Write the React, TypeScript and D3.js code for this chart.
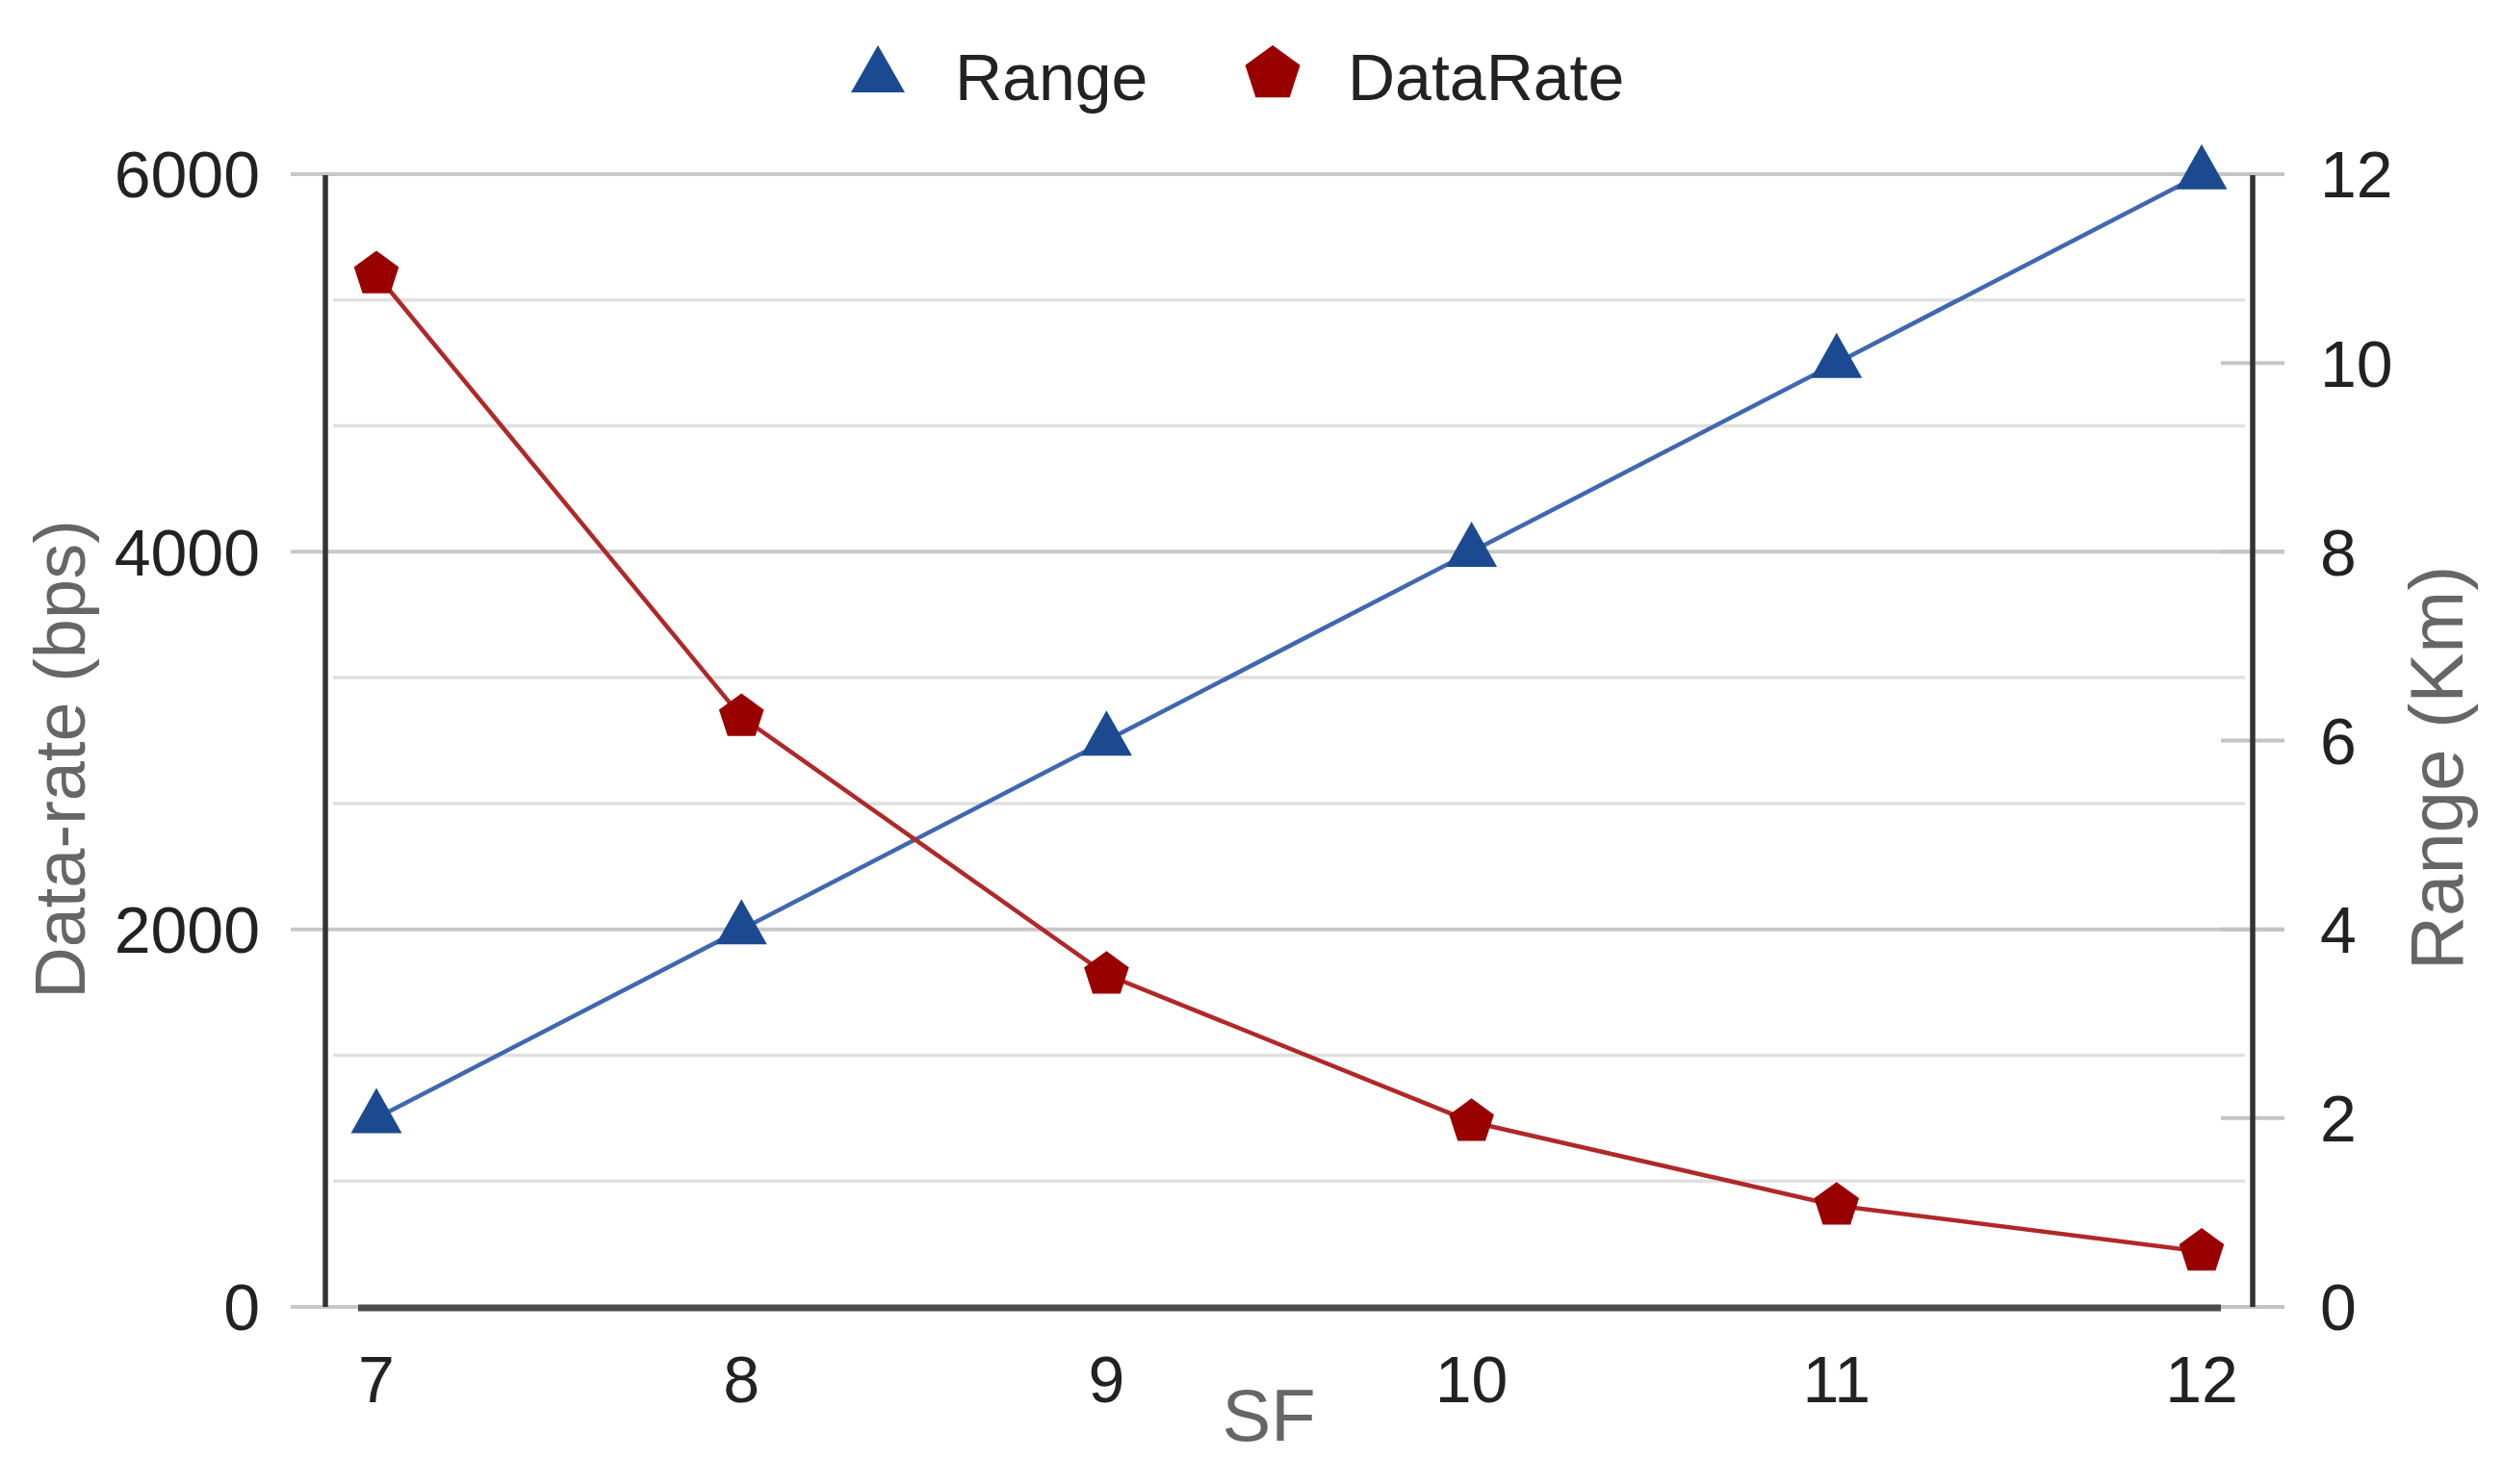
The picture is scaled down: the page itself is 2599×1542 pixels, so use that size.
import React from "react";
import * as d3 from "d3";

const sfValues = [7, 8, 9, 10, 11, 12];
const rangeKm = [2, 4, 6, 8, 10, 12];
const dataRateBps = [5470, 3125, 1760, 980, 537, 293];
const leftTicks = [0, 2000, 4000, 6000];
const rightTicks = [0, 2, 4, 6, 8, 10, 12];
const seriesNames = ["Range", "DataRate"];
const xTitle = "SF";
const leftTitle = "Data-rate (bps)";
const rightTitle = "Range (Km)";

const W = 2599;
const H = 1542;
const FONT = "'Liberation Sans', Arial, sans-serif";

const BLUE_LINE = "#3e68b0";
const BLUE_MARK = "#1c4a91";
const RED_LINE = "#b02828";
const RED_MARK = "#990000";

function trianglePath(cx: number, cy: number, w: number, h: number) {
  const p = d3.path();
  p.moveTo(cx, cy - (2 * h) / 3);
  p.lineTo(cx + w / 2, cy + h / 3);
  p.lineTo(cx - w / 2, cy + h / 3);
  p.closePath();
  return p.toString();
}

function pentagonPath(cx: number, cy: number, r: number) {
  const pts: [number, number][] = d3.range(5).map((i) => {
    const a = -Math.PI / 2 + (i * 2 * Math.PI) / 5;
    return [cx + r * Math.cos(a), cy + r * Math.sin(a)];
  });
  return d3.line()(pts)! + "Z";
}

export default function App() {
  const x = d3.scaleLinear().domain([7, 12]).range([391, 2287]);
  const yL = d3.scaleLinear().domain([0, 6000]).range([1358, 181]);
  const yR = d3.scaleLinear().domain([0, 12]).range([1358, 181]);

  const axisLeftX = 338;
  const axisRightX = 2340;

  const gridVals = d3.range(0, 10).map((i) => (i * 6000) / 9);
  const minorGrid = gridVals.filter((v) => !leftTicks.some((t) => Math.abs(t - v) < 1));

  const rangeLine = d3
    .line<number>()
    .x((_, i) => x(sfValues[i]))
    .y((d) => yR(d));
  const rateLine = d3
    .line<number>()
    .x((_, i) => x(sfValues[i]))
    .y((d) => yL(d));

  return (
    <svg
      width={W}
      height={H}
      style={{ position: "absolute", left: 0, top: 0, background: "#fff" }}
      fontFamily={FONT}
    >
      <rect x={0} y={0} width={W} height={H} fill="#fff" />
      {minorGrid.map((v) => (
        <line
          key={"mg" + v}
          x1={axisLeftX + 8}
          x2={axisRightX - 8}
          y1={yL(v)}
          y2={yL(v)}
          stroke="#e0e0e0"
          strokeWidth={3.5}
        />
      ))}
      {leftTicks.map((v) => (
        <line
          key={"Mg" + v}
          x1={302}
          x2={2373}
          y1={yL(v)}
          y2={yL(v)}
          stroke="#c8c8c8"
          strokeWidth={4}
        />
      ))}
      {rightTicks.map((v) => (
        <line
          key={"rt" + v}
          x1={2307}
          x2={2373}
          y1={yR(v)}
          y2={yR(v)}
          stroke="#c4c4c4"
          strokeWidth={4}
        />
      ))}
      <line
        x1={x(7) - 19}
        x2={x(12) + 20}
        y1={yL(0) + 1}
        y2={yL(0) + 1}
        stroke="#4d4d4d"
        strokeWidth={7}
      />
      <line x1={axisLeftX} x2={axisLeftX} y1={yL(6000) + 1} y2={yL(0)} stroke="#333" strokeWidth={5.5} />
      <line x1={axisRightX} x2={axisRightX} y1={yR(12) + 1} y2={yR(0)} stroke="#333" strokeWidth={5.5} />

      {leftTicks.map((v) => (
        <text key={"lt" + v} x={270} y={yL(v)} dy="0.36em" textAnchor="end" fontSize={68} fill="#222">
          {v}
        </text>
      ))}
      {rightTicks.map((v) => (
        <text key={"rl" + v} x={2410} y={yR(v)} dy="0.36em" textAnchor="start" fontSize={68} fill="#222">
          {v}
        </text>
      ))}
      {sfValues.map((v) => (
        <text key={"xt" + v} x={x(v)} y={1457} textAnchor="middle" fontSize={68} fill="#222">
          {v}
        </text>
      ))}

      <text x={1318} y={1497} textAnchor="middle" fontSize={76} fill="#666">
        {xTitle}
      </text>
      <text transform={`translate(88, 789) rotate(-90)`} textAnchor="middle" fontSize={74} fill="#666">
        {leftTitle}
      </text>
      <text transform={`translate(2558, 798) rotate(-90)`} textAnchor="middle" fontSize={78} fill="#666">
        {rightTitle}
      </text>

      <path d={rangeLine(rangeKm) || ""} fill="none" stroke={BLUE_LINE} strokeWidth={4.5} />
      <path d={rateLine(dataRateBps) || ""} fill="none" stroke={RED_LINE} strokeWidth={4.5} />

      {rangeKm.map((v, i) => (
        <path key={"tri" + i} d={trianglePath(x(sfValues[i]), yR(v), 53, 47)} fill={BLUE_MARK} />
      ))}
      {dataRateBps.map((v, i) => (
        <path key={"pen" + i} d={pentagonPath(x(sfValues[i]), yL(v), 24.5)} fill={RED_MARK} />
      ))}

      <path d={trianglePath(912, 47 + (2 * 49) / 3, 56, 49)} fill={BLUE_MARK} />
      <text x={992} y={104} fontSize={68} fill="#222">
        {seriesNames[0]}
      </text>
      <path d={pentagonPath(1322, 77, 30)} fill={RED_MARK} />
      <text x={1400} y={104} fontSize={68} fill="#222">
        {seriesNames[1]}
      </text>
    </svg>
  );
}
